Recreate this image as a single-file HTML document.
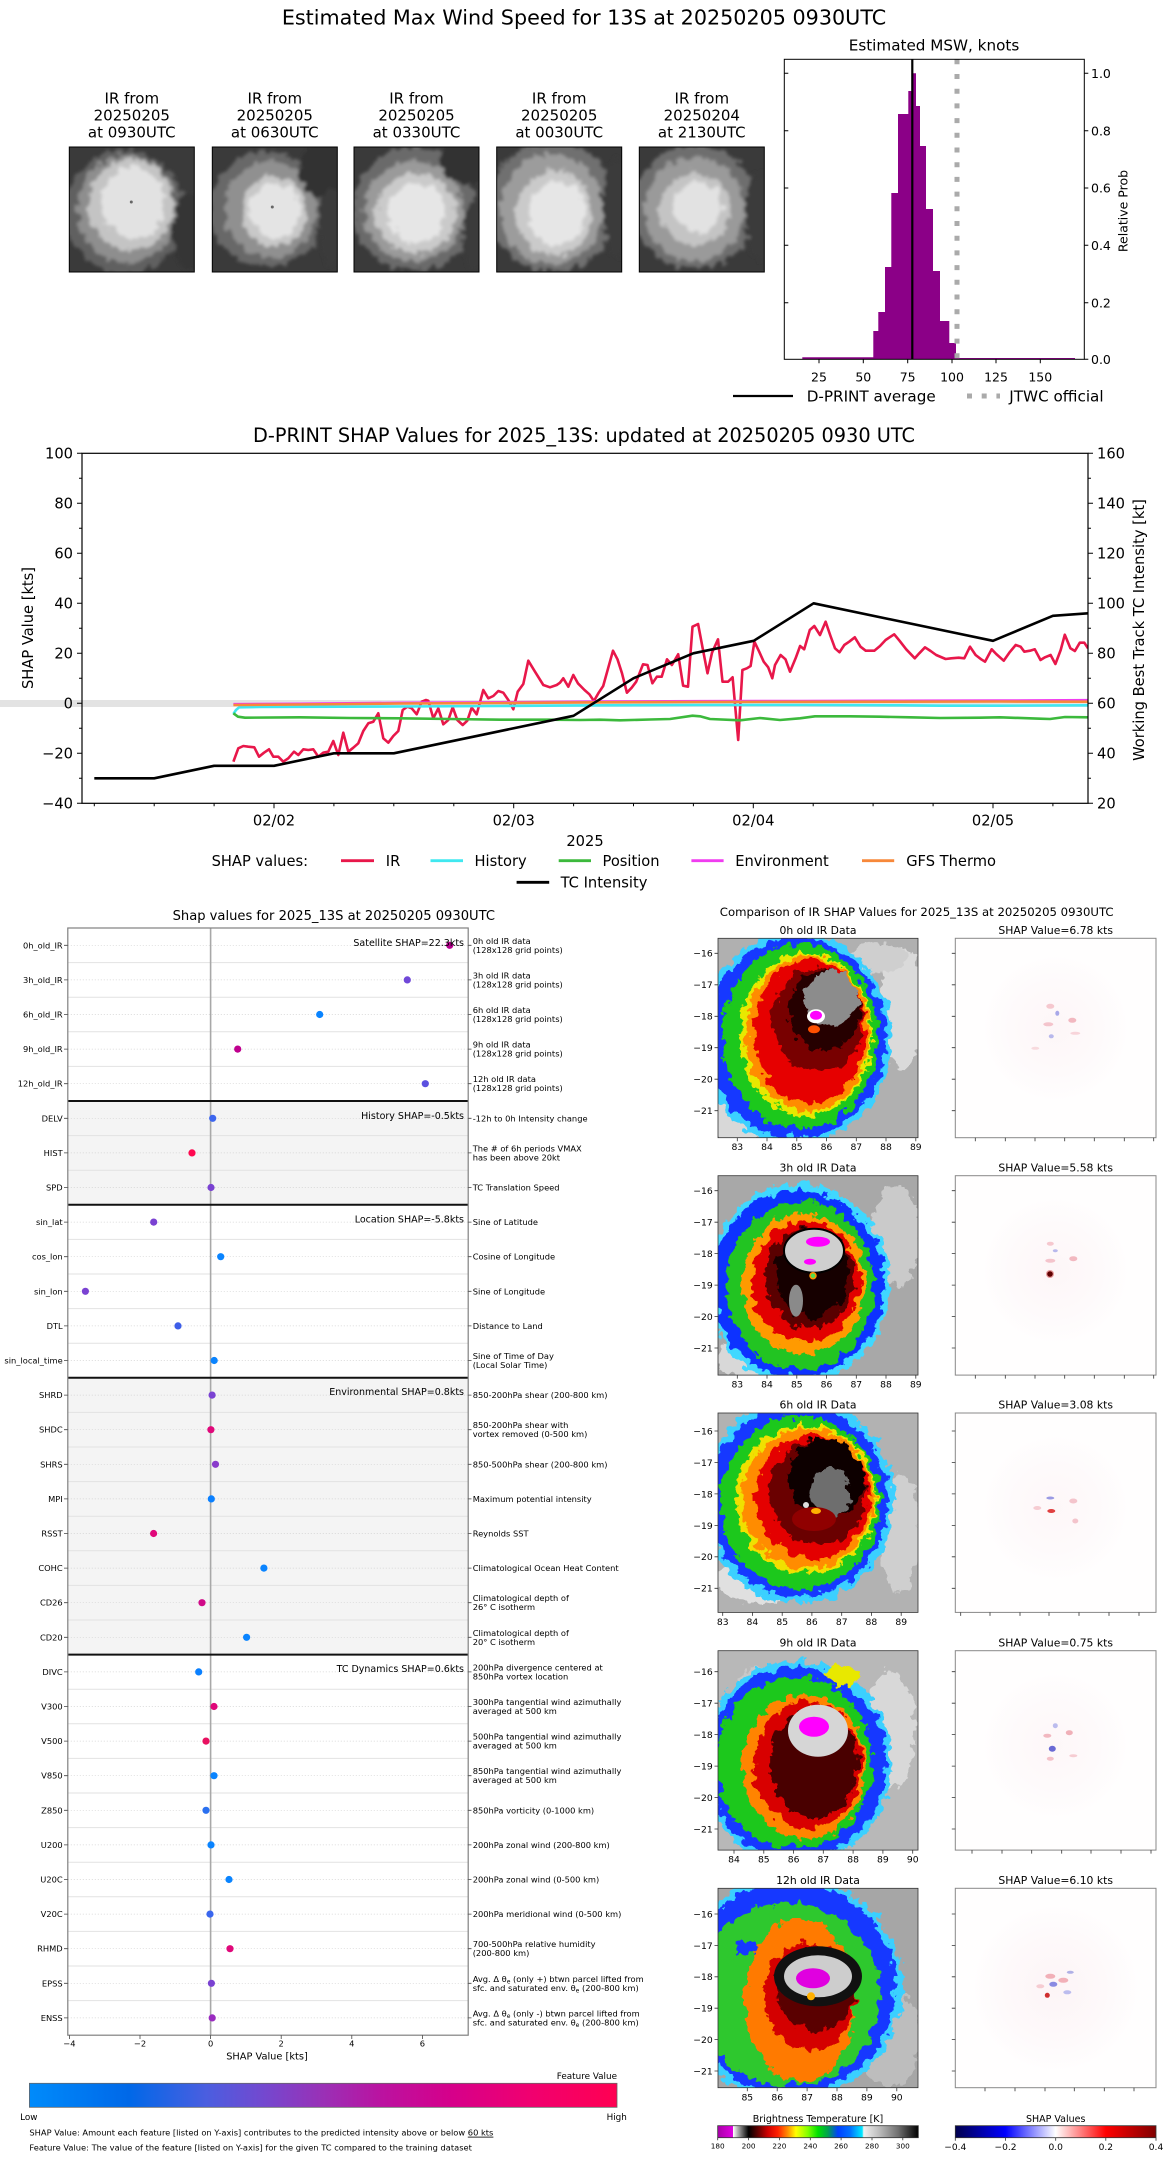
<!DOCTYPE html>
<html><head><meta charset="utf-8"><title>D-PRINT 13S</title>
<style>
html,body{margin:0;padding:0;background:#fff;}
svg{display:block;}
text{font-family:"DejaVu Sans","Liberation Sans",sans-serif;fill:#000;}
</style></head><body>
<svg width="1168" height="2158" viewBox="0 0 1168 2158" xmlns="http://www.w3.org/2000/svg">
<defs>
<filter id="tx" x="-20%" y="-20%" width="140%" height="140%"><feTurbulence type="fractalNoise" baseFrequency="0.12" numOctaves="3" seed="4" result="n"/><feDisplacementMap in="SourceGraphic" in2="n" scale="14" xChannelSelector="R" yChannelSelector="G" result="d"/><feGaussianBlur in="d" stdDeviation="1.6"/></filter>
<filter id="rag" x="-20%" y="-20%" width="140%" height="140%"><feTurbulence type="fractalNoise" baseFrequency="0.1" numOctaves="3" seed="7" result="n"/><feDisplacementMap in="SourceGraphic" in2="n" scale="16" xChannelSelector="R" yChannelSelector="G"/></filter>
<clipPath id="ct"><rect x="0" y="0" width="125" height="125"/></clipPath>
<clipPath id="ci"><rect x="0" y="0" width="200" height="199.4"/></clipPath>
<clipPath id="ca"><rect x="82" y="453.3" width="1006" height="350"/></clipPath>
<linearGradient id="gfv" x1="0" x2="1" y1="0" y2="0">
<stop offset="0" stop-color="#008bfb"/><stop offset="0.17" stop-color="#0068e8"/><stop offset="0.3" stop-color="#4a5ee0"/><stop offset="0.4" stop-color="#7448cf"/><stop offset="0.5" stop-color="#9a30b6"/><stop offset="0.6" stop-color="#bb12a0"/><stop offset="0.72" stop-color="#d6008a"/><stop offset="0.85" stop-color="#f00070"/><stop offset="1" stop-color="#ff0052"/>
</linearGradient>
<linearGradient id="gbt" x1="0" x2="1" y1="0" y2="0">
<stop offset="0" stop-color="#a800a8"/><stop offset="0.075" stop-color="#e000e0"/><stop offset="0.077" stop-color="#ffffff"/><stop offset="0.1" stop-color="#b0b0b0"/><stop offset="0.154" stop-color="#000000"/><stop offset="0.2" stop-color="#600000"/><stop offset="0.25" stop-color="#d00000"/><stop offset="0.3" stop-color="#ff2000"/><stop offset="0.35" stop-color="#ff9000"/><stop offset="0.39" stop-color="#ffff00"/><stop offset="0.45" stop-color="#80ff00"/><stop offset="0.5" stop-color="#00e000"/><stop offset="0.55" stop-color="#00a050"/><stop offset="0.6" stop-color="#0040ff"/><stop offset="0.66" stop-color="#0070ff"/><stop offset="0.72" stop-color="#00e8ff"/><stop offset="0.728" stop-color="#f0f0f0"/><stop offset="0.8" stop-color="#c0c0c0"/><stop offset="0.9" stop-color="#707070"/><stop offset="1" stop-color="#000000"/>
</linearGradient>
<linearGradient id="gsh" x1="0" x2="1" y1="0" y2="0">
<stop offset="0" stop-color="#00004d"/><stop offset="0.25" stop-color="#0000ff"/><stop offset="0.5" stop-color="#ffffff"/><stop offset="0.75" stop-color="#ff0000"/><stop offset="1" stop-color="#800000"/>
</linearGradient>
<radialGradient id="pk"><stop offset="0" stop-color="#fbeef1"/><stop offset="0.6" stop-color="#fdf6f8"/><stop offset="1" stop-color="#fffefe"/></radialGradient>
</defs>
<rect width="1168" height="2158" fill="#fff"/>

<!-- ===== MAIN TITLE ===== -->
<text x="584" y="24.6" font-size="20.7" text-anchor="middle">Estimated Max Wind Speed for 13S at 20250205 0930UTC</text>

<!-- ===== THUMBNAILS ===== -->
<g font-size="15" text-anchor="middle">
<text x="131.8" y="103.5">IR from</text><text x="131.8" y="120.5">20250205</text><text x="131.8" y="137.5">at 0930UTC</text>
<text x="274.8" y="103.5">IR from</text><text x="274.8" y="120.5">20250205</text><text x="274.8" y="137.5">at 0630UTC</text>
<text x="416.5" y="103.5">IR from</text><text x="416.5" y="120.5">20250205</text><text x="416.5" y="137.5">at 0330UTC</text>
<text x="559.2" y="103.5">IR from</text><text x="559.2" y="120.5">20250205</text><text x="559.2" y="137.5">at 0030UTC</text>
<text x="701.8" y="103.5">IR from</text><text x="701.8" y="120.5">20250204</text><text x="701.8" y="137.5">at 2130UTC</text>
</g>
<g transform="translate(69.3,147)">
<g clip-path="url(#ct)"><rect width="125" height="125" fill="#3a3a3a"/>
<g filter="url(#tx)"><ellipse cx="55" cy="65" rx="60" ry="62" fill="#606060"/><ellipse cx="58" cy="62" rx="50" ry="54" fill="#8e8e8e"/><ellipse cx="62" cy="58" rx="42" ry="46" fill="#c4c4c4"/><ellipse cx="64" cy="56" rx="32" ry="36" fill="#e2e2e2"/><ellipse cx="120" cy="85" rx="16" ry="40" fill="#363636"/></g>
<circle cx="62" cy="55" r="1.5" fill="#666"/></g>
<rect width="125" height="125" fill="none" stroke="#000" stroke-width="1"/></g>
<g transform="translate(212.3,147)">
<g clip-path="url(#ct)"><rect width="125" height="125" fill="#3a3a3a"/>
<g filter="url(#tx)"><ellipse cx="55" cy="62" rx="58" ry="58" fill="#686868"/><ellipse cx="58" cy="62" rx="46" ry="48" fill="#909090"/><ellipse cx="62" cy="64" rx="33" ry="35" fill="#c8c8c8"/><ellipse cx="62" cy="64" rx="25" ry="28" fill="#e4e4e4"/><ellipse cx="112" cy="22" rx="25" ry="28" fill="#333"/><ellipse cx="118" cy="80" rx="12" ry="40" fill="#3a3a3a"/></g>
<circle cx="60" cy="60" r="1.5" fill="#666"/></g>
<rect width="125" height="125" fill="none" stroke="#000" stroke-width="1"/></g>
<g transform="translate(354,147)">
<g clip-path="url(#ct)"><rect width="125" height="125" fill="#3a3a3a"/>
<g filter="url(#tx)"><ellipse cx="60" cy="62" rx="62" ry="62" fill="#6a6a6a"/><ellipse cx="60" cy="64" rx="50" ry="50" fill="#9a9a9a"/><ellipse cx="62" cy="66" rx="40" ry="40" fill="#cacaca"/><ellipse cx="62" cy="66" rx="28" ry="30" fill="#e6e6e6"/><ellipse cx="115" cy="12" rx="30" ry="25" fill="#333"/><ellipse cx="120" cy="90" rx="12" ry="35" fill="#3a3a3a"/></g></g>
<rect width="125" height="125" fill="none" stroke="#000" stroke-width="1"/></g>
<g transform="translate(496.7,147)">
<g clip-path="url(#ct)"><rect width="125" height="125" fill="#3a3a3a"/>
<g filter="url(#tx)"><ellipse cx="55" cy="60" rx="65" ry="65" fill="#707070"/><ellipse cx="55" cy="62" rx="52" ry="55" fill="#9c9c9c"/><ellipse cx="58" cy="66" rx="38" ry="42" fill="#cacaca"/><ellipse cx="60" cy="66" rx="28" ry="32" fill="#e6e6e6"/><ellipse cx="120" cy="60" rx="14" ry="50" fill="#3a3a3a"/></g></g>
<rect width="125" height="125" fill="none" stroke="#000" stroke-width="1"/></g>
<g transform="translate(639.3,147)">
<g clip-path="url(#ct)"><rect width="125" height="125" fill="#3a3a3a"/>
<g filter="url(#tx)"><ellipse cx="55" cy="60" rx="62" ry="62" fill="#6e6e6e"/><ellipse cx="55" cy="62" rx="50" ry="52" fill="#9a9a9a"/><ellipse cx="56" cy="62" rx="35" ry="36" fill="#c4c4c4"/><ellipse cx="58" cy="60" rx="24" ry="26" fill="#e2e2e2"/><ellipse cx="120" cy="70" rx="14" ry="45" fill="#3a3a3a"/></g></g>
<rect width="125" height="125" fill="none" stroke="#000" stroke-width="1"/></g>

<!-- ===== HISTOGRAM ===== -->
<text x="934" y="50.5" font-size="15.2" text-anchor="middle">Estimated MSW, knots</text>
<path d="M802.3,359.3 V357.3 H873.3 V331 H878.3 V312 H885 V267 H891.3 V193 H898 V114 H908.3 V91 H911.7 V73.3 H916 V106 H920 V146 H926 V209 H933 V271 H940 V321 H949.3 V343 H956 V358 H1075 V359.3 Z" fill="#8b0087"/>
<line x1="912.3" y1="59.3" x2="912.3" y2="359.3" stroke="#000" stroke-width="2.2"/>
<line x1="957" y1="59.3" x2="957" y2="359.3" stroke="#aaa" stroke-width="5" stroke-dasharray="5 9.7"/>
<rect x="784.3" y="59.3" width="300" height="300" fill="none" stroke="#000" stroke-width="1"/>
<path d="M1084.3,73.3h4M1084.3,130.7h4M1084.3,188h4M1084.3,245.3h4M1084.3,302.7h4M1084.3,359.3h4M784.3,73.3h4M784.3,130.7h4M784.3,188h4M784.3,245.3h4M784.3,302.7h4M819,359.3v4M863.3,359.3v4M907.7,359.3v4M952,359.3v4M996,359.3v4M1040.3,359.3v4" stroke="#000" stroke-width="1"/>
<g font-size="12.5">
<text x="1091" y="77.9">1.0</text><text x="1091" y="135.3">0.8</text><text x="1091" y="192.6">0.6</text><text x="1091" y="249.9">0.4</text><text x="1091" y="307.3">0.2</text><text x="1091" y="363.9">0.0</text>
<g text-anchor="middle"><text x="819" y="381.3">25</text><text x="863.3" y="381.3">50</text><text x="907.7" y="381.3">75</text><text x="952" y="381.3">100</text><text x="996" y="381.3">125</text><text x="1040.3" y="381.3">150</text></g>
<text transform="translate(1127.3,211) rotate(-90)" text-anchor="middle">Relative Prob</text>
</g>
<line x1="733" y1="396" x2="793" y2="396" stroke="#000" stroke-width="2.2"/>
<text x="806.7" y="401.5" font-size="15.2">D-PRINT average</text>
<line x1="967" y1="396" x2="1000" y2="396" stroke="#aaa" stroke-width="5" stroke-dasharray="5 9.7"/>
<text x="1009.3" y="401.5" font-size="15.2">JTWC official</text>

<!-- ===== SHAP TIME SERIES ===== -->
<text x="584" y="442" font-size="19.3" text-anchor="middle">D-PRINT SHAP Values for 2025_13S: updated at 20250205 0930 UTC</text>
<rect x="0" y="700" width="1088" height="7" fill="#e3e3e3"/>
<g clip-path="url(#ca)" fill="none" stroke-width="2.6" stroke-linejoin="round">
<polyline stroke="#e8174a" points="233.4,761.7 238.3,748.3 243.3,746 248.3,746.7 254.3,747.3 259,756.7 264,752.7 269,749.3 273.3,756.7 278.3,756.7 283.3,761.7 288.3,758.3 294,751.7 298.3,755 303.3,749.3 308.3,750 313.3,749.3 318.3,756.7 323.3,752.7 328.3,751.7 333.3,741 338.3,755 343.3,732.7 348.3,751.7 353.3,747.7 358.3,743.3 363.3,731 368.3,723.3 373.3,721.7 378.3,713.3 383.3,738.3 388.3,742.7 393.3,736 398.3,731 402.7,710 407.3,706.7 411.7,708.3 416.7,714.3 421.7,701.7 426,700 428.3,700.7 433.3,718.3 438.3,708.3 443.3,724.3 448.3,720 452.7,707.3 457.3,720 462.7,725 467.3,720.7 471.7,707.7 476.7,714.3 483.3,690 488.3,698.3 493.3,696 498.3,691 503.3,692.7 508.3,700 513.3,709.3 517.7,691.7 523.3,684 528.3,660.7 535,671.7 543.3,685 550,687.3 556.7,685 560,682.7 563.3,678.3 568.3,686.7 573.3,675 577.9,683.3 584.5,690 589.4,694.3 593.9,701 598.7,692.7 603.2,686 608.1,668.3 613,650.7 617.5,659.3 622,673.3 626.9,692.7 631.7,687.7 636.2,681.7 643,664.3 647.5,665 652.4,683.3 656.9,676.7 661.7,676.7 667,659.3 671.9,665 678.2,654.3 683.1,685.7 688,686.7 692.5,626.7 698.1,624 703,650 707.5,673.3 712,652.7 718,639.3 722.5,681.7 728.1,681.7 732.6,677.3 738.2,740 742.4,670 746.9,668.3 750.6,666 754.4,641.7 759.2,651.7 763.7,661.7 768.2,667.3 772.3,678.3 775,665 780.6,655 785.5,659.3 790,671.7 795.6,658.3 800.1,646 804.2,649.3 809.8,630 814.3,626 820,635 825.6,621.7 830.5,636 835,648.3 839.5,652.3 844.3,645 849.2,641.7 854.8,637.3 860.5,646.7 865.7,650.7 874.3,650.7 880,646 885.6,640 894.2,634.3 899.5,640.7 906.2,649.3 914.8,658.3 919.3,653.3 925,647.3 930.6,651 936.2,655 945.6,659 951.2,658.3 958.7,657.7 964.3,658.3 970,646.7 975.6,655 981.2,659.3 985,661.7 991.7,649.3 996.2,654 1003.7,660.7 1009.3,652.7 1015.7,645 1020.6,646.7 1024.3,651.7 1030,650.7 1034.8,649.3 1040.5,660 1045,657.3 1050.6,655 1055.4,664 1060.7,650 1064.8,634.7 1070.4,648.3 1074.9,651 1079.8,642.7 1084.3,642.7 1088,648.3"/>
<polyline stroke="#40e8f0" points="233.4,714 236,710 239.2,707.3 260,707 300,706.8 400,706.5 500,706 600,705.3 700,705 800,705 900,705.3 940,705.7 1000,705.7 1088,705.3"/>
<polyline stroke="#3cb93c" points="233.4,713.3 238,716.7 245,717.7 300,717.3 350,718 400,718.3 450,719 500,719.7 550,719.7 580,720 600,719.7 620,720.3 650,719.5 670,719 692.5,715.7 700,716.3 710,719 740,720.3 760,718 780,720 800,718.3 815,716.3 850,716.3 880,716.7 910,717.3 940,718 980,717.7 1000,717.3 1040,718.7 1050,719 1065,717 1088,717.3"/>
<polyline stroke="#f03cf0" points="233.4,704.2 300,703.8 400,702.8 500,702.3 600,701.6 700,701.2 800,701 900,700.8 1000,700.6 1088,700.2"/>
<polyline stroke="#f7883a" points="233.4,705 300,704.5 400,703.5 500,703 600,702.3 700,702 800,701.8 900,701.7 1000,701.5 1088,701.7"/>
<polyline stroke="#000" points="94.3,778.3 154.2,778.3 214.1,765.8 274,765.8 333.9,753.3 393.8,753.3 573.5,715.8 633.4,678.3 693.3,653.3 753.7,640.8 813.6,603.3 993,640.8 1052.9,615.8 1088,613.3"/>
</g>
<rect x="82" y="453.3" width="1006" height="350" fill="none" stroke="#000" stroke-width="1.2"/>
<path d="M82,453.3h-5M82,503.3h-5M82,553.3h-5M82,603.3h-5M82,653.3h-5M82,703.3h-5M82,753.3h-5M82,803.3h-5M82,478.3h-3M82,528.3h-3M82,578.3h-3M82,628.3h-3M82,678.3h-3M82,728.3h-3M82,778.3h-3M1088,453.3h5M1088,503.3h5M1088,553.3h5M1088,603.3h5M1088,653.3h5M1088,703.3h5M1088,753.3h5M1088,803.3h5M1088,478.3h3M1088,528.3h3M1088,578.3h3M1088,628.3h3M1088,678.3h3M1088,728.3h3M1088,778.3h3M274,803.3v5M513.7,803.3v5M753.3,803.3v5M993,803.3v5M94.3,803.3v3M154.2,803.3v3M214.1,803.3v3M333.9,803.3v3M393.8,803.3v3M453.8,803.3v3M573.6,803.3v3M633.5,803.3v3M693.4,803.3v3M813.2,803.3v3M873.1,803.3v3M933.1,803.3v3M1052.9,803.3v3" stroke="#000" stroke-width="1"/>
<g font-size="14.67">
<g text-anchor="end"><text x="73" y="458.6">100</text><text x="73" y="508.6">80</text><text x="73" y="558.6">60</text><text x="73" y="608.6">40</text><text x="73" y="658.6">20</text><text x="73" y="708.6">0</text><text x="73" y="758.6">−20</text><text x="73" y="808.6">−40</text></g>
<text x="1097" y="458.6">160</text><text x="1097" y="508.6">140</text><text x="1097" y="558.6">120</text><text x="1097" y="608.6">100</text><text x="1097" y="658.6">80</text><text x="1097" y="708.6">60</text><text x="1097" y="758.6">40</text><text x="1097" y="808.6">20</text>
<g text-anchor="middle"><text x="274" y="825.4">02/02</text><text x="513.7" y="825.4">02/03</text><text x="753.3" y="825.4">02/04</text><text x="993" y="825.4">02/05</text><text x="585" y="846">2025</text></g>
<text transform="translate(33,628) rotate(-90)" text-anchor="middle">SHAP Value [kts]</text>
<text transform="translate(1144,630) rotate(-90)" text-anchor="middle">Working Best Track TC Intensity [kt]</text>
<text x="211.6" y="866">SHAP values:</text>
<text x="385.8" y="866">IR</text><text x="474.5" y="866">History</text><text x="602.5" y="866">Position</text><text x="735.2" y="866">Environment</text><text x="906.2" y="866">GFS Thermo</text>
<text x="560.6" y="887.7">TC Intensity</text>
</g>
<g stroke-width="2.8">
<line x1="341" y1="860.7" x2="374" y2="860.7" stroke="#e8174a"/>
<line x1="430.5" y1="860.7" x2="463" y2="860.7" stroke="#40e8f0"/>
<line x1="558.7" y1="860.7" x2="591" y2="860.7" stroke="#3cb93c"/>
<line x1="691.4" y1="860.7" x2="723.6" y2="860.7" stroke="#f03cf0"/>
<line x1="862" y1="860.7" x2="894.2" y2="860.7" stroke="#f7883a"/>
<line x1="516.6" y1="882.3" x2="549.2" y2="882.3" stroke="#000"/>
</g>

<!-- ===== LEFT SHAP PANEL ===== -->
<text x="333.8" y="919.8" font-size="13.1" text-anchor="middle" fill="#222">Shap values for 2025_13S at 20250205 0930UTC</text>
<rect x="67.8" y="1101" width="400.4" height="103.8" fill="#f4f4f4"/>
<rect x="67.8" y="1377.8" width="400.4" height="276.8" fill="#f4f4f4"/>
<path d="M67.8,962.6H468.2M67.8,997.2H468.2M67.8,1031.8H468.2M67.8,1066.4H468.2M67.8,1135.6H468.2M67.8,1170.2H468.2M67.8,1239.4H468.2M67.8,1274H468.2M67.8,1308.6H468.2M67.8,1343.2H468.2M67.8,1412.4H468.2M67.8,1447H468.2M67.8,1481.6H468.2M67.8,1516.2H468.2M67.8,1550.8H468.2M67.8,1585.4H468.2M67.8,1620H468.2M67.8,1689.2H468.2M67.8,1723.8H468.2M67.8,1758.4H468.2M67.8,1793H468.2M67.8,1827.6H468.2M67.8,1862.2H468.2M67.8,1896.8H468.2M67.8,1931.4H468.2M67.8,1966H468.2M67.8,2000.6H468.2" stroke="#e2e2e2" stroke-width="1"/>
<path d="M67.8,945.3H468.2M67.8,979.9H468.2M67.8,1014.5H468.2M67.8,1049.1H468.2M67.8,1083.7H468.2M67.8,1118.3H468.2M67.8,1152.9H468.2M67.8,1187.5H468.2M67.8,1222.1H468.2M67.8,1256.7H468.2M67.8,1291.3H468.2M67.8,1325.9H468.2M67.8,1360.5H468.2M67.8,1395.1H468.2M67.8,1429.7H468.2M67.8,1464.3H468.2M67.8,1498.9H468.2M67.8,1533.5H468.2M67.8,1568.1H468.2M67.8,1602.7H468.2M67.8,1637.3H468.2M67.8,1671.9H468.2M67.8,1706.5H468.2M67.8,1741.1H468.2M67.8,1775.7H468.2M67.8,1810.3H468.2M67.8,1844.9H468.2M67.8,1879.5H468.2M67.8,1914.1H468.2M67.8,1948.7H468.2M67.8,1983.3H468.2M67.8,2017.9H468.2" stroke="#cfcfcf" stroke-width="0.7" stroke-dasharray="1 2"/>
<line x1="210.6" y1="928" x2="210.6" y2="2035.2" stroke="#a8a8a8" stroke-width="1.6"/>
<path d="M67.8,1101H468.2M67.8,1204.8H468.2M67.8,1377.8H468.2M67.8,1654.6H468.2" stroke="#111" stroke-width="2"/>
<rect x="67.8" y="928" width="400.4" height="1107.2" fill="none" stroke="#808080" stroke-width="1.2"/>
<path d="M64,945.3h3.8M64,979.9h3.8M64,1014.5h3.8M64,1049.1h3.8M64,1083.7h3.8M64,1118.3h3.8M64,1152.9h3.8M64,1187.5h3.8M64,1222.1h3.8M64,1256.7h3.8M64,1291.3h3.8M64,1325.9h3.8M64,1360.5h3.8M64,1395.1h3.8M64,1429.7h3.8M64,1464.3h3.8M64,1498.9h3.8M64,1533.5h3.8M64,1568.1h3.8M64,1602.7h3.8M64,1637.3h3.8M64,1671.9h3.8M64,1706.5h3.8M64,1741.1h3.8M64,1775.7h3.8M64,1810.3h3.8M64,1844.9h3.8M64,1879.5h3.8M64,1914.1h3.8M64,1948.7h3.8M64,1983.3h3.8M64,2017.9h3.8M468.2,945.3h3.3M468.2,979.9h3.3M468.2,1014.5h3.3M468.2,1049.1h3.3M468.2,1083.7h3.3M468.2,1118.3h3.3M468.2,1152.9h3.3M468.2,1187.5h3.3M468.2,1222.1h3.3M468.2,1256.7h3.3M468.2,1291.3h3.3M468.2,1325.9h3.3M468.2,1360.5h3.3M468.2,1395.1h3.3M468.2,1429.7h3.3M468.2,1464.3h3.3M468.2,1498.9h3.3M468.2,1533.5h3.3M468.2,1568.1h3.3M468.2,1602.7h3.3M468.2,1637.3h3.3M468.2,1671.9h3.3M468.2,1706.5h3.3M468.2,1741.1h3.3M468.2,1775.7h3.3M468.2,1810.3h3.3M468.2,1844.9h3.3M468.2,1879.5h3.3M468.2,1914.1h3.3M468.2,1948.7h3.3M468.2,1983.3h3.3M468.2,2017.9h3.3M69.4,2035.2v3.8M140,2035.2v3.8M210.6,2035.2v3.8M281.2,2035.2v3.8M351.8,2035.2v3.8M422.4,2035.2v3.8" stroke="#444" stroke-width="0.8"/>
<!-- dots -->
<g>
<circle cx="449.7" cy="945.3" r="3.6" fill="#b8008f"/>
<circle cx="407.3" cy="979.9" r="3.6" fill="#7048d8"/>
<circle cx="319.7" cy="1014.5" r="3.6" fill="#0a84ff"/>
<circle cx="237.7" cy="1049.1" r="3.6" fill="#bf008e"/>
<circle cx="425.3" cy="1083.7" r="3.6" fill="#5b50e0"/>
<circle cx="212.7" cy="1118.3" r="3.6" fill="#3d66ee"/>
<circle cx="192" cy="1152.9" r="3.6" fill="#ff0850"/>
<circle cx="211" cy="1187.5" r="3.6" fill="#7a42d2"/>
<circle cx="153.7" cy="1222.1" r="3.6" fill="#7a42d2"/>
<circle cx="220.7" cy="1256.7" r="3.6" fill="#0a84ff"/>
<circle cx="85.4" cy="1291.3" r="3.6" fill="#7a42d2"/>
<circle cx="178" cy="1325.9" r="3.6" fill="#3d5ee8"/>
<circle cx="214.2" cy="1360.5" r="3.6" fill="#0a84ff"/>
<circle cx="212.1" cy="1395.1" r="3.6" fill="#7a42d2"/>
<circle cx="210.9" cy="1429.7" r="3.6" fill="#e0087a"/>
<circle cx="215.5" cy="1464.3" r="3.6" fill="#8a3ccc"/>
<circle cx="211.3" cy="1498.9" r="3.6" fill="#0a80ff"/>
<circle cx="153.6" cy="1533.5" r="3.6" fill="#e0087a"/>
<circle cx="263.9" cy="1568.1" r="3.6" fill="#0a84ff"/>
<circle cx="202" cy="1602.7" r="3.6" fill="#d00a88"/>
<circle cx="246.6" cy="1637.3" r="3.6" fill="#0a84ff"/>
<circle cx="198.7" cy="1671.9" r="3.6" fill="#0a80ff"/>
<circle cx="214" cy="1706.5" r="3.6" fill="#e0087a"/>
<circle cx="206" cy="1741.1" r="3.6" fill="#e81060"/>
<circle cx="214" cy="1775.7" r="3.6" fill="#0a84ff"/>
<circle cx="206" cy="1810.3" r="3.6" fill="#2a70f0"/>
<circle cx="211" cy="1844.9" r="3.6" fill="#0a84ff"/>
<circle cx="229" cy="1879.5" r="3.6" fill="#0a84ff"/>
<circle cx="210" cy="1914.1" r="3.6" fill="#3a66ee"/>
<circle cx="230" cy="1948.7" r="3.6" fill="#e0087a"/>
<circle cx="211.4" cy="1983.3" r="3.6" fill="#7a42d2"/>
<circle cx="212.2" cy="2017.9" r="3.6" fill="#9a2cc0"/>
</g>
<g font-size="8.3" text-anchor="end" style="fill:#222">
<text x="62.7" y="948.3">0h_old_IR</text>
<text x="62.7" y="982.9">3h_old_IR</text>
<text x="62.7" y="1017.5">6h_old_IR</text>
<text x="62.7" y="1052.1">9h_old_IR</text>
<text x="62.7" y="1086.7">12h_old_IR</text>
<text x="62.7" y="1121.3">DELV</text>
<text x="62.7" y="1155.9">HIST</text>
<text x="62.7" y="1190.5">SPD</text>
<text x="62.7" y="1225.1">sin_lat</text>
<text x="62.7" y="1259.7">cos_lon</text>
<text x="62.7" y="1294.3">sin_lon</text>
<text x="62.7" y="1328.9">DTL</text>
<text x="62.7" y="1363.5">sin_local_time</text>
<text x="62.7" y="1398.1">SHRD</text>
<text x="62.7" y="1432.7">SHDC</text>
<text x="62.7" y="1467.3">SHRS</text>
<text x="62.7" y="1501.9">MPI</text>
<text x="62.7" y="1536.5">RSST</text>
<text x="62.7" y="1571.1">COHC</text>
<text x="62.7" y="1605.7">CD26</text>
<text x="62.7" y="1640.3">CD20</text>
<text x="62.7" y="1674.9">DIVC</text>
<text x="62.7" y="1709.5">V300</text>
<text x="62.7" y="1744.1">V500</text>
<text x="62.7" y="1778.7">V850</text>
<text x="62.7" y="1813.3">Z850</text>
<text x="62.7" y="1847.9">U200</text>
<text x="62.7" y="1882.5">U20C</text>
<text x="62.7" y="1917.1">V20C</text>
<text x="62.7" y="1951.7">RHMD</text>
<text x="62.7" y="1986.3">EPSS</text>
<text x="62.7" y="2020.9">ENSS</text>
</g>
<g font-size="9.5" text-anchor="end" style="fill:#222">
<text x="464" y="945.8">Satellite SHAP=22.3kts</text>
<text x="464" y="1118.8">History SHAP=-0.5kts</text>
<text x="464" y="1222.5">Location SHAP=-5.8kts</text>
<text x="464" y="1395.2">Environmental SHAP=0.8kts</text>
<text x="464" y="1672.2">TC Dynamics SHAP=0.6kts</text>
</g>
<g font-size="8.3" style="fill:#222">
<text x="472.7" y="943.8">0h old IR data</text><text x="472.7" y="952.8">(128x128 grid points)</text>
<text x="472.7" y="978.4">3h old IR data</text><text x="472.7" y="987.4">(128x128 grid points)</text>
<text x="472.7" y="1013">6h old IR data</text><text x="472.7" y="1022">(128x128 grid points)</text>
<text x="472.7" y="1047.6">9h old IR data</text><text x="472.7" y="1056.6">(128x128 grid points)</text>
<text x="472.7" y="1082.2">12h old IR data</text><text x="472.7" y="1091.2">(128x128 grid points)</text>
<text x="472.7" y="1121.3">-12h to 0h Intensity change</text>
<text x="472.7" y="1151.4">The # of 6h periods VMAX</text><text x="472.7" y="1160.4">has been above 20kt</text>
<text x="472.7" y="1190.5">TC Translation Speed</text>
<text x="472.7" y="1225.1">Sine of Latitude</text>
<text x="472.7" y="1259.7">Cosine of Longitude</text>
<text x="472.7" y="1294.3">Sine of Longitude</text>
<text x="472.7" y="1328.9">Distance to Land</text>
<text x="472.7" y="1359">Sine of Time of Day</text><text x="472.7" y="1368">(Local Solar Time)</text>
<text x="472.7" y="1398.1">850-200hPa shear (200-800 km)</text>
<text x="472.7" y="1428.2">850-200hPa shear with</text><text x="472.7" y="1437.2">vortex removed (0-500 km)</text>
<text x="472.7" y="1467.3">850-500hPa shear (200-800 km)</text>
<text x="472.7" y="1501.9">Maximum potential intensity</text>
<text x="472.7" y="1536.5">Reynolds SST</text>
<text x="472.7" y="1571.1">Climatological Ocean Heat Content</text>
<text x="472.7" y="1601.2">Climatological depth of</text><text x="472.7" y="1610.2">26° C isotherm</text>
<text x="472.7" y="1635.8">Climatological depth of</text><text x="472.7" y="1644.8">20° C isotherm</text>
<text x="472.7" y="1670.4">200hPa divergence centered at</text><text x="472.7" y="1679.4">850hPa vortex location</text>
<text x="472.7" y="1705">300hPa tangential wind azimuthally</text><text x="472.7" y="1714">averaged at 500 km</text>
<text x="472.7" y="1739.6">500hPa tangential wind azimuthally</text><text x="472.7" y="1748.6">averaged at 500 km</text>
<text x="472.7" y="1774.2">850hPa tangential wind azimuthally</text><text x="472.7" y="1783.2">averaged at 500 km</text>
<text x="472.7" y="1813.3">850hPa vorticity (0-1000 km)</text>
<text x="472.7" y="1847.9">200hPa zonal wind (200-800 km)</text>
<text x="472.7" y="1882.5">200hPa zonal wind (0-500 km)</text>
<text x="472.7" y="1917.1">200hPa meridional wind (0-500 km)</text>
<text x="472.7" y="1947.2">700-500hPa relative humidity</text><text x="472.7" y="1956.2">(200-800 km)</text>
<text x="472.7" y="1981.8">Avg. Δ θ<tspan font-size="6" dy="1.5">e</tspan><tspan dy="-1.5"> (only +) btwn parcel lifted from</tspan></text>
<text x="472.7" y="1990.8">sfc. and saturated env. θ<tspan font-size="6" dy="1.5">e</tspan><tspan dy="-1.5"> (200-800 km)</tspan></text>
<text x="472.7" y="2016.4">Avg. Δ θ<tspan font-size="6" dy="1.5">e</tspan><tspan dy="-1.5"> (only -) btwn parcel lifted from</tspan></text>
<text x="472.7" y="2025.4">sfc. and saturated env. θ<tspan font-size="6" dy="1.5">e</tspan><tspan dy="-1.5"> (200-800 km)</tspan></text>
</g>
<g font-size="8.3" text-anchor="middle" style="fill:#222">
<text x="69.4" y="2046.3">−4</text><text x="140" y="2046.3">−2</text><text x="210.6" y="2046.3">0</text><text x="281.2" y="2046.3">2</text><text x="351.8" y="2046.3">4</text><text x="422.4" y="2046.3">6</text>
</g>
<text x="267" y="2059.6" font-size="9.8" text-anchor="middle" fill="#222">SHAP Value [kts]</text>
<rect x="29.4" y="2083.3" width="587.6" height="24" fill="url(#gfv)" stroke="#666" stroke-width="0.8"/>
<text x="617" y="2078.9" font-size="8.8" text-anchor="end" fill="#222">Feature Value</text>
<text x="28.8" y="2119.9" font-size="8.8" text-anchor="middle" fill="#222">Low</text>
<text x="616.7" y="2119.9" font-size="8.8" text-anchor="middle" fill="#222">High</text>
<text x="29.4" y="2135.7" font-size="8.3" fill="#222">SHAP Value: Amount each feature [listed on Y-axis] contributes to the predicted intensity above or below <tspan text-decoration="underline">60 kts</tspan></text>
<text x="29.4" y="2150.3" font-size="8.3" fill="#222">Feature Value: The value of the feature [listed on Y-axis] for the given TC compared to the training dataset</text>

<!-- ===== RIGHT IR PANEL ===== -->
<text x="916.7" y="916" font-size="11.7" text-anchor="middle" fill="#222">Comparison of IR SHAP Values for 2025_13S at 20250205 0930UTC</text>
<g font-size="10.8" text-anchor="middle" fill="#222">
<text x="818" y="933.9">0h old IR Data</text><text x="1055.7" y="933.9">SHAP Value=6.78 kts</text>
<text x="818" y="1171.3">3h old IR Data</text><text x="1055.7" y="1171.3">SHAP Value=5.58 kts</text>
<text x="818" y="1408.6">6h old IR Data</text><text x="1055.7" y="1408.6">SHAP Value=3.08 kts</text>
<text x="818" y="1646.3">9h old IR Data</text><text x="1055.7" y="1646.3">SHAP Value=0.75 kts</text>
<text x="818" y="1883.9">12h old IR Data</text><text x="1055.7" y="1883.9">SHAP Value=6.10 kts</text>
</g>

<!-- IR row 0 -->
<g transform="translate(718,938.3)">
<g clip-path="url(#ci)"><rect width="200" height="200" fill="#b0b0b0"/>
<g filter="url(#rag)">
<ellipse cx="185" cy="70" rx="22" ry="60" fill="#dadada"/><ellipse cx="160" cy="20" rx="30" ry="15" fill="#cfcfcf"/><ellipse cx="20" cy="178" rx="25" ry="30" fill="#d8d8d8"/>
<ellipse cx="78" cy="100" rx="96" ry="106" fill="#3ad0ff"/><ellipse cx="78" cy="100" rx="90" ry="100" fill="#1438ff"/>
<ellipse cx="82" cy="98" rx="78" ry="92" fill="#1ec81e"/><ellipse cx="88" cy="96" rx="66" ry="82" fill="#e8e800"/>
<ellipse cx="90" cy="95" rx="62" ry="78" fill="#ff8c00"/><ellipse cx="92" cy="93" rx="56" ry="72" fill="#e60000"/>
<ellipse cx="100" cy="82" rx="45" ry="52" fill="#780000"/><ellipse cx="106" cy="72" rx="36" ry="40" fill="#280000"/>
<ellipse cx="113" cy="60" rx="27" ry="27" fill="#8c8c8c"/>
</g>
<ellipse cx="98" cy="78" rx="9" ry="7" fill="#fff"/><ellipse cx="98" cy="77" rx="6" ry="4.5" fill="#ff00ff"/><ellipse cx="96" cy="91" rx="6" ry="4" fill="#ff5000"/>
</g><rect width="200" height="199.4" fill="none" stroke="#333" stroke-width="0.8"/></g>
<!-- IR row 1 -->
<g transform="translate(718,1175.7)">
<g clip-path="url(#ci)"><rect width="200" height="200" fill="#a8a8a8"/>
<g filter="url(#rag)">
<ellipse cx="178" cy="60" rx="25" ry="50" fill="#cacaca"/><ellipse cx="30" cy="182" rx="30" ry="20" fill="#d8d8d8"/>
<ellipse cx="80" cy="108" rx="92" ry="100" fill="#40d8ff"/><ellipse cx="80" cy="108" rx="86" ry="94" fill="#1030ff"/>
<ellipse cx="82" cy="110" rx="74" ry="84" fill="#22c422"/><ellipse cx="86" cy="108" rx="62" ry="70" fill="#ff9a00"/>
<ellipse cx="88" cy="106" rx="54" ry="60" fill="#e20000"/><ellipse cx="92" cy="102" rx="45" ry="50" fill="#5a0000"/>
<ellipse cx="94" cy="98" rx="36" ry="44" fill="#180000"/>
</g>
<ellipse cx="96" cy="75" rx="30" ry="22" fill="#cfcfcf" stroke="#000" stroke-width="2"/>
<ellipse cx="78" cy="125" rx="7" ry="16" fill="#8a8a8a"/>
<ellipse cx="100" cy="66" rx="12" ry="5" fill="#ff00ff"/><ellipse cx="92" cy="86" rx="6" ry="3" fill="#ff00ff"/>
<circle cx="95" cy="100" r="3" fill="#50e050" stroke="#ff9000" stroke-width="1.5"/>
</g><rect width="200" height="199.4" fill="none" stroke="#333" stroke-width="0.8"/></g>
<!-- IR row 2 -->
<g transform="translate(718,1413)">
<g clip-path="url(#ci)"><rect width="200" height="200" fill="#b2b2b2"/>
<g filter="url(#rag)">
<ellipse cx="45" cy="168" rx="50" ry="22" fill="#e0e0e0"/><ellipse cx="182" cy="120" rx="20" ry="60" fill="#cfcfcf"/>
<ellipse cx="80" cy="88" rx="96" ry="102" fill="#3ad0ff"/><ellipse cx="80" cy="88" rx="90" ry="96" fill="#1438ff"/>
<ellipse cx="82" cy="90" rx="80" ry="86" fill="#1ec81e"/><ellipse cx="88" cy="86" rx="70" ry="74" fill="#f0e000"/>
<ellipse cx="90" cy="85" rx="66" ry="70" fill="#ff8c00"/><ellipse cx="95" cy="84" rx="58" ry="62" fill="#e40000"/>
<ellipse cx="100" cy="80" rx="48" ry="52" fill="#6a0000"/><ellipse cx="108" cy="66" rx="38" ry="40" fill="#100000"/>
<ellipse cx="112" cy="80" rx="20" ry="26" fill="#6e6e6e"/>
</g>
<ellipse cx="96" cy="106" rx="22" ry="12" fill="#900000"/><ellipse cx="98" cy="98" rx="5" ry="3" fill="#ffb000"/><circle cx="88" cy="92" r="3" fill="#ddd"/>
</g><rect width="200" height="199.4" fill="none" stroke="#333" stroke-width="0.8"/></g>
<!-- IR row 3 -->
<g transform="translate(718,1650.7)">
<g clip-path="url(#ci)"><rect width="200" height="200" fill="#b8b8b8"/>
<g filter="url(#rag)">
<ellipse cx="172" cy="80" rx="25" ry="60" fill="#d8d8d8"/><ellipse cx="60" cy="30" rx="40" ry="15" fill="#c8c8c8"/>
<ellipse cx="78" cy="112" rx="96" ry="102" fill="#3ad0ff"/><ellipse cx="78" cy="112" rx="90" ry="96" fill="#1438ff"/>
<ellipse cx="76" cy="112" rx="78" ry="86" fill="#1ec81e"/><ellipse cx="125" cy="25" rx="15" ry="12" fill="#e8e800"/>
<ellipse cx="86" cy="116" rx="62" ry="72" fill="#ff8400"/><ellipse cx="90" cy="114" rx="54" ry="64" fill="#d80000"/>
<ellipse cx="96" cy="112" rx="44" ry="56" fill="#4a0000"/>
</g>
<ellipse cx="100" cy="80" rx="30" ry="26" fill="#d6d6d6"/><ellipse cx="96" cy="76" rx="15" ry="10" fill="#ff00ff"/>
</g><rect width="200" height="199.4" fill="none" stroke="#333" stroke-width="0.8"/></g>
<!-- IR row 4 -->
<g transform="translate(718,1888.3)">
<g clip-path="url(#ci)"><rect width="200" height="200" fill="#a6a6a6"/>
<g filter="url(#rag)">
<ellipse cx="172" cy="150" rx="30" ry="50" fill="#bdbdbd"/>
<ellipse cx="72" cy="100" rx="112" ry="112" fill="#3ad0ff"/><ellipse cx="72" cy="100" rx="106" ry="106" fill="#1438ff"/>
<ellipse cx="70" cy="106" rx="92" ry="92" fill="#2ec82e"/>
<ellipse cx="30" cy="60" rx="12" ry="8" fill="#1438ff"/><ellipse cx="60" cy="150" rx="10" ry="15" fill="#1438ff"/>
<ellipse cx="82" cy="112" rx="55" ry="82" fill="#ff7a00"/><ellipse cx="92" cy="108" rx="46" ry="54" fill="#d40000"/>
<ellipse cx="98" cy="100" rx="40" ry="42" fill="#5a0000"/>
</g>
<ellipse cx="100" cy="88" rx="44" ry="30" fill="#111"/><ellipse cx="100" cy="88" rx="34" ry="21" fill="#cdcdcd"/>
<ellipse cx="95" cy="90" rx="17" ry="10" fill="#e000e0"/><circle cx="93" cy="108" r="4" fill="#ffb000"/>
</g><rect width="200" height="199.4" fill="none" stroke="#333" stroke-width="0.8"/></g>

<!-- SHAP images -->
<g transform="translate(955.3,938.3)"><rect width="200.7" height="199.4" fill="#fffefe"/><ellipse cx="100" cy="90" rx="75" ry="75" fill="url(#pk)" opacity="0.5"/>
<ellipse cx="95" cy="68" rx="4" ry="2.5" fill="#f6c8cf"/><ellipse cx="117" cy="82" rx="4" ry="2.5" fill="#f2b8c0"/><ellipse cx="93" cy="86" rx="5" ry="2" fill="#f4c4cc"/><ellipse cx="102" cy="75" rx="2" ry="2.5" fill="#a8a8e8"/><ellipse cx="96" cy="98" rx="2.5" ry="2" fill="#b8b8ec"/><ellipse cx="120" cy="95" rx="5" ry="1.5" fill="#f8d4da"/><ellipse cx="80" cy="110" rx="4" ry="1.5" fill="#f8dade"/>
<rect width="200.7" height="199.4" fill="none" stroke="#888" stroke-width="1"/></g>
<g transform="translate(955.3,1175.7)"><rect width="200.7" height="199.4" fill="#fffefe"/><ellipse cx="100" cy="95" rx="75" ry="75" fill="url(#pk)" opacity="0.5"/>
<ellipse cx="95" cy="68" rx="3.5" ry="2" fill="#f6c8cf"/><ellipse cx="118" cy="83" rx="4" ry="2.5" fill="#f2b8c0"/><ellipse cx="100" cy="75" rx="2.5" ry="1.5" fill="#b8b8ec"/><ellipse cx="95" cy="85" rx="5" ry="2" fill="#f4c4cc"/>
<circle cx="94.7" cy="98.3" r="4" fill="#d04040" opacity="0.5"/><circle cx="94.7" cy="98.3" r="2.8" fill="#600000"/>
<rect width="200.7" height="199.4" fill="none" stroke="#888" stroke-width="1"/></g>
<g transform="translate(955.3,1413)"><rect width="200.7" height="199.4" fill="#fffefe"/><ellipse cx="100" cy="95" rx="75" ry="75" fill="url(#pk)" opacity="0.45"/>
<ellipse cx="96" cy="98" rx="4" ry="2" fill="#e04040"/><ellipse cx="95" cy="85" rx="4" ry="1.5" fill="#9a9ae4"/><ellipse cx="118" cy="88" rx="4" ry="2.5" fill="#f4c4cc"/><ellipse cx="82" cy="95" rx="4" ry="2" fill="#f6ccd2"/><ellipse cx="120" cy="108" rx="3" ry="2.5" fill="#f4c4cc"/>
<rect width="200.7" height="199.4" fill="none" stroke="#888" stroke-width="1"/></g>
<g transform="translate(955.3,1650.7)"><rect width="200.7" height="199.4" fill="#fffefe"/><ellipse cx="100" cy="95" rx="75" ry="75" fill="url(#pk)" opacity="0.45"/>
<ellipse cx="97" cy="98" rx="3.5" ry="3" fill="#6a6ad4"/><ellipse cx="92" cy="85" rx="4" ry="2" fill="#f2b8c0"/><ellipse cx="114" cy="82" rx="3.5" ry="2.5" fill="#f0b0b8"/><ellipse cx="100" cy="75" rx="2.5" ry="2.5" fill="#bcbcee"/><ellipse cx="95" cy="108" rx="3.5" ry="2" fill="#f4c0c8"/><ellipse cx="118" cy="105" rx="4" ry="1.5" fill="#f6ccd2"/>
<rect width="200.7" height="199.4" fill="none" stroke="#888" stroke-width="1"/></g>
<g transform="translate(955.3,1888.3)"><rect width="200.7" height="199.4" fill="#fffefe"/><ellipse cx="100" cy="100" rx="85" ry="85" fill="url(#pk)" opacity="0.6"/>
<ellipse cx="92" cy="107" rx="2.5" ry="2.5" fill="#d03030"/><ellipse cx="98" cy="96" rx="4" ry="2.5" fill="#8a8ae2"/><ellipse cx="95" cy="88" rx="5" ry="2.5" fill="#f2b0b8"/><ellipse cx="108" cy="92" rx="5" ry="2.5" fill="#f2b0b8"/><ellipse cx="115" cy="84" rx="3.5" ry="1.5" fill="#b0b0e6"/><ellipse cx="112" cy="104" rx="4" ry="2" fill="#bcbcee"/><ellipse cx="85" cy="98" rx="4" ry="2" fill="#f6ccd2"/>
<rect width="200.7" height="199.4" fill="none" stroke="#888" stroke-width="1"/></g>

<!-- IR / SHAP image ticks -->
<g stroke="#333" stroke-width="0.8">
<path d="M714.5,953.3h3.5M714.5,984.8h3.5M714.5,1016.3h3.5M714.5,1047.7h3.5M714.5,1079.2h3.5M714.5,1110.7h3.5M951.8,953.3h3.5M951.8,984.8h3.5M951.8,1016.3h3.5M951.8,1047.7h3.5M951.8,1079.2h3.5M951.8,1110.7h3.5"/>
<path d="M714.5,1190.7h3.5M714.5,1222.2h3.5M714.5,1253.6h3.5M714.5,1285.1h3.5M714.5,1316.5h3.5M714.5,1348h3.5M951.8,1190.7h3.5M951.8,1222.2h3.5M951.8,1253.6h3.5M951.8,1285.1h3.5M951.8,1316.5h3.5M951.8,1348h3.5"/>
<path d="M714.5,1431h3.5M714.5,1462.5h3.5M714.5,1493.9h3.5M714.5,1525.4h3.5M714.5,1556.8h3.5M714.5,1588.3h3.5M951.8,1431h3.5M951.8,1462.5h3.5M951.8,1493.9h3.5M951.8,1525.4h3.5M951.8,1556.8h3.5M951.8,1588.3h3.5"/>
<path d="M714.5,1671.7h3.5M714.5,1703.2h3.5M714.5,1734.6h3.5M714.5,1766.1h3.5M714.5,1797.5h3.5M714.5,1829h3.5M951.8,1671.7h3.5M951.8,1703.2h3.5M951.8,1734.6h3.5M951.8,1766.1h3.5M951.8,1797.5h3.5M951.8,1829h3.5"/>
<path d="M714.5,1914h3.5M714.5,1945.4h3.5M714.5,1976.8h3.5M714.5,2008.2h3.5M714.5,2039.6h3.5M714.5,2071h3.5M951.8,1914h3.5M951.8,1945.4h3.5M951.8,1976.8h3.5M951.8,2008.2h3.5M951.8,2039.6h3.5M951.8,2071h3.5"/>
<path d="M737.3,1137.7v3.5M767,1137.7v3.5M796.8,1137.7v3.5M826.5,1137.7v3.5M856.3,1137.7v3.5M886,1137.7v3.5M915.8,1137.7v3.5M975.3,1137.7v3.5M1005.3,1137.7v3.5M1035,1137.7v3.5M1064.7,1137.7v3.5M1094.3,1137.7v3.5M1124.3,1137.7v3.5M1153.7,1137.7v3.5"/>
<path d="M737.3,1375.1v3.5M767,1375.1v3.5M796.8,1375.1v3.5M826.5,1375.1v3.5M856.3,1375.1v3.5M886,1375.1v3.5M915.8,1375.1v3.5M975.3,1375.1v3.5M1005.3,1375.1v3.5M1035,1375.1v3.5M1064.7,1375.1v3.5M1094.3,1375.1v3.5M1124.3,1375.1v3.5M1153.7,1375.1v3.5"/>
<path d="M722.7,1612.4v3.5M752.4,1612.4v3.5M782.2,1612.4v3.5M811.9,1612.4v3.5M841.7,1612.4v3.5M871.4,1612.4v3.5M901.2,1612.4v3.5M960.7,1612.4v3.5M990,1612.4v3.5M1020,1612.4v3.5M1049,1612.4v3.5M1079,1612.4v3.5M1109,1612.4v3.5M1139,1612.4v3.5"/>
<path d="M734,1850.1v3.5M763.8,1850.1v3.5M793.6,1850.1v3.5M823.3,1850.1v3.5M853.1,1850.1v3.5M882.9,1850.1v3.5M912.7,1850.1v3.5M972,1850.1v3.5M1002,1850.1v3.5M1031.7,1850.1v3.5M1061.7,1850.1v3.5M1091,1850.1v3.5M1121,1850.1v3.5M1151,1850.1v3.5"/>
<path d="M747.3,2087.7v3.5M777.2,2087.7v3.5M807.1,2087.7v3.5M837,2087.7v3.5M866.9,2087.7v3.5M896.8,2087.7v3.5M985,2087.7v3.5M1015,2087.7v3.5M1045,2087.7v3.5M1074.3,2087.7v3.5M1104.3,2087.7v3.5M1134,2087.7v3.5"/>
</g>
<g font-size="9.2" fill="#222">
<g text-anchor="end">
<text x="712.7" y="956.7">−16</text><text x="712.7" y="988.2">−17</text><text x="712.7" y="1019.7">−18</text><text x="712.7" y="1051.1">−19</text><text x="712.7" y="1082.6">−20</text><text x="712.7" y="1114.1">−21</text>
<text x="712.7" y="1194.1">−16</text><text x="712.7" y="1225.6">−17</text><text x="712.7" y="1257">−18</text><text x="712.7" y="1288.5">−19</text><text x="712.7" y="1319.9">−20</text><text x="712.7" y="1351.4">−21</text>
<text x="712.7" y="1434.4">−16</text><text x="712.7" y="1465.9">−17</text><text x="712.7" y="1497.3">−18</text><text x="712.7" y="1528.8">−19</text><text x="712.7" y="1560.2">−20</text><text x="712.7" y="1591.7">−21</text>
<text x="712.7" y="1675.1">−16</text><text x="712.7" y="1706.6">−17</text><text x="712.7" y="1738">−18</text><text x="712.7" y="1769.5">−19</text><text x="712.7" y="1800.9">−20</text><text x="712.7" y="1832.4">−21</text>
<text x="712.7" y="1917.4">−16</text><text x="712.7" y="1948.8">−17</text><text x="712.7" y="1980.2">−18</text><text x="712.7" y="2011.6">−19</text><text x="712.7" y="2043">−20</text><text x="712.7" y="2074.4">−21</text>
</g>
<g text-anchor="middle">
<text x="737.3" y="1150.1">83</text><text x="767" y="1150.1">84</text><text x="796.8" y="1150.1">85</text><text x="826.5" y="1150.1">86</text><text x="856.3" y="1150.1">87</text><text x="886" y="1150.1">88</text><text x="915.8" y="1150.1">89</text>
<text x="737.3" y="1387.4">83</text><text x="767" y="1387.4">84</text><text x="796.8" y="1387.4">85</text><text x="826.5" y="1387.4">86</text><text x="856.3" y="1387.4">87</text><text x="886" y="1387.4">88</text><text x="915.8" y="1387.4">89</text>
<text x="722.7" y="1625.1">83</text><text x="752.4" y="1625.1">84</text><text x="782.2" y="1625.1">85</text><text x="811.9" y="1625.1">86</text><text x="841.7" y="1625.1">87</text><text x="871.4" y="1625.1">88</text><text x="901.2" y="1625.1">89</text>
<text x="734" y="1862.7">84</text><text x="763.8" y="1862.7">85</text><text x="793.6" y="1862.7">86</text><text x="823.3" y="1862.7">87</text><text x="853.1" y="1862.7">88</text><text x="882.9" y="1862.7">89</text><text x="912.7" y="1862.7">90</text>
<text x="747.3" y="2100.4">85</text><text x="777.2" y="2100.4">86</text><text x="807.1" y="2100.4">87</text><text x="837" y="2100.4">88</text><text x="866.9" y="2100.4">89</text><text x="896.8" y="2100.4">90</text>
</g>
</g>

<!-- colorbars right -->
<text x="818" y="2121.8" font-size="9.5" text-anchor="middle" fill="#222">Brightness Temperature [K]</text>
<rect x="717.7" y="2125.7" width="200.6" height="12" fill="url(#gbt)" stroke="#333" stroke-width="0.8"/>
<path d="M717.7,2137.7v2.5M748.6,2137.7v2.5M779.4,2137.7v2.5M810.3,2137.7v2.5M841.1,2137.7v2.5M872,2137.7v2.5M902.8,2137.7v2.5M955.3,2137.7v3M1005.5,2137.7v3M1055.7,2137.7v3M1105.8,2137.7v3M1156,2137.7v3" stroke="#333" stroke-width="0.8"/>
<g font-size="7.3" text-anchor="middle" fill="#222">
<text x="717.7" y="2148.7">180</text><text x="748.6" y="2148.7">200</text><text x="779.4" y="2148.7">220</text><text x="810.3" y="2148.7">240</text><text x="841.1" y="2148.7">260</text><text x="872" y="2148.7">280</text><text x="902.8" y="2148.7">300</text>
</g>
<text x="1055.7" y="2121.8" font-size="9.5" text-anchor="middle" fill="#222">SHAP Values</text>
<rect x="955.3" y="2125.7" width="200.7" height="12" fill="url(#gsh)" stroke="#333" stroke-width="0.8"/>
<g font-size="9.1" text-anchor="middle" fill="#222">
<text x="955.3" y="2150">−0.4</text><text x="1005.5" y="2150">−0.2</text><text x="1055.7" y="2150">0.0</text><text x="1105.8" y="2150">0.2</text><text x="1156" y="2150">0.4</text>
</g>
</svg>
</body></html>
